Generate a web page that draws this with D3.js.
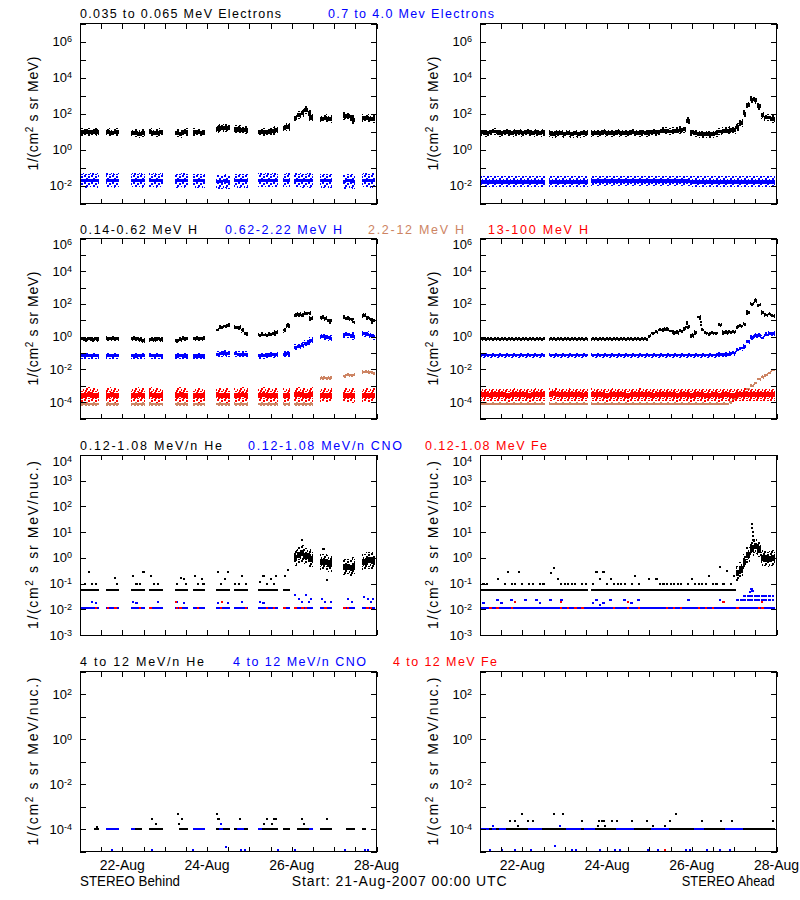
<!DOCTYPE html>
<html><head><meta charset="utf-8">
<script src="https://cdn.jsdelivr.net/npm/d3@7/dist/d3.min.js"></script>
<style>
html,body{margin:0;padding:0;background:#fff;}
svg text{font-family:"Liberation Sans",Arial,Helvetica,sans-serif;}
</style></head><body>
<svg id="chart" width="800" height="900"></svg>
<script>
// ---------------- DATA (hours after 21-Aug-2007 00:00 UTC) ----------------
// STEREO Ahead: 2-hour samples
const hoursA = [0,2,4,6,8,10,12,14,16,18,20,22,24,26,28,30,32,34,36,38,40,42,44,46,48,50,52,54,56,58,60,62,64,66,68,70,72,74,76,78,80,82,84,86,88,90,92,94,96,98,100,102,104,106,108,110,112,114,116,118,120,122,124,126,128,130,132,134,136,138,140,142,144,146,148,150,152,154,156,158,160,162,164,166];
// STEREO Behind: samples inside the data chunks
const hoursB = [1,3,5,7,9,10, 16,18,20,21, 30,32,34,36, 40,42,44,46, 55,57,59,60, 65,67,69,70, 78,80,82,84, 88,90,92,94, 102,104,106,108,110,111, 116,118, 122,124,126,128,130,131, 137,139,141,142, 150,152,154,155, 161,163,165,166];

// Row 1: electrons
const eLoA = [9,9,8,9,10,9,8,9,9,8, 9,9,8,9,9,8,9,8,9,null, 8,7,8,8,7,8,7,8,7,8, 8,null,8,8,8,9,8,8,8,9, 8,8,8,9,8,8,9,8,9,9, 9,10,11,11,10,11,11,12,13,40, 9,8,7,7,7,7,7,8,10,11, 11,12,12,18,30,100,300,600,550,250, 80,60,60,50];
const eHiA = [.016,.016,.016,.016,.016,.016,.016,.016,.016,.016, .016,.016,.016,.016,.016,.016,.016,.016,.016,null, .016,.016,.016,.016,.016,.016,.016,.016,.016,.016, .016,null,.018,.018,.018,.018,.018,.018,.018,.018, .018,.018,.018,.018,.018,.018,.018,.018,.018,.018, .018,.018,.018,.018,.018,.018,.018,.018,.018,.018, .016,.016,.016,.016,.016,.016,.016,.016,.016,.016, .016,.016,.016,.016,.016,.016,.016,.016,.016,.016, .016,.016,.016,.016];
const eLoB = [9,10,9,9,10,9, 9,8,9,9, 8,8,7,8, 9,8,8,9, 8,7,9,9, 9,9,8,9, 14,16,15,15, 13,13,12,12, 9,9,9,10,11,12, 15,18, 55,80,110,150,100,60, 50,55,50,50, 70,70,60,45, 55,55,50,48];
const eHiB = [.02,.018,.02,.02,.02,.018, .02,.02,.018,.02, .02,.02,.02,.018, .02,.02,.018,.02, .018,.02,.02,.018, .018,.018,.018,.018, .016,.016,.018,.016, .018,.018,.018,.018, .02,.02,.02,.02,.02,.02, .02,.02, .02,.02,.018,.02,.018,.02, .018,.018,.018,.018, .016,.018,.018,.016, .02,.02,.018,.02];

// Row 2: protons
const hLoA = [.7,.7,.72,.7,.7,.7,.72,.7,.7,.7, .7,.72,.7,.7,.7,.7,.7,.72,.7,null, .7,.7,.7,.7,.72,.7,.7,.7,.7,.7, .7,null,.7,.7,.7,.72,.7,.7,.7,.7, .7,.7,.7,.7,.72,.7,.7,.75,1.1,1.6, 2.0,2.5,2.7,2.7,2.2,1.8,1.8,2.2,3.2,3.8, 1.2,1.8,16,2.5,1.6,1.4,1.6,1.6,5,1.8, 1.8,2.0,2.0,3.8,4.5,6,30,100,160,90, 30,22,25,18];
const hLoAxHours = [117.5,117.5,124.5,125,125.5];
const hLoAx = [8,6,12,8,5];
const hMidA = [.075,.075,.075,.075,.075,.075,.075,.075,.075,.075, .075,.075,.075,.075,.075,.075,.075,.075,.075,null, .075,.075,.075,.075,.075,.075,.075,.075,.075,.075, .075,null,.075,.075,.075,.075,.075,.075,.075,.075, .075,.075,.075,.075,.075,.075,.075,.075,.075,.075, .075,.075,.075,.075,.075,.075,.075,.075,.075,.075, .075,.075,.075,.075,.075,.075,.075,.075,.085,.085, .085,.09,.1,.15,.2,.25,.5,.9,1.2,1.2, .85,1.3,1.5,1.6];
const hHighA = [8e-5,8e-5,8e-5,8e-5,8e-5,8e-5,8e-5,8e-5,8e-5,8e-5, 8e-5,8e-5,8e-5,8e-5,8e-5,8e-5,8e-5,8e-5,8e-5,null, 8e-5,8e-5,8e-5,8e-5,8e-5,8e-5,8e-5,8e-5,8e-5,8e-5, 8e-5,null,8e-5,8e-5,8e-5,8e-5,8e-5,8e-5,8e-5,8e-5, 8e-5,8e-5,8e-5,8e-5,8e-5,8e-5,8e-5,8e-5,8e-5,8e-5, 8e-5,8e-5,8e-5,8e-5,8e-5,8e-5,8e-5,8e-5,8e-5,8e-5, 8e-5,8e-5,8e-5,8e-5,8e-5,8e-5,8e-5,8e-5,8e-5,8e-5, 8e-5,1e-4,1.5e-4,2e-4,3e-4,4e-4,6e-4,1e-3,1.5e-3,2.5e-3, 3.5e-3,4.5e-3,6e-3,9e-3];
const hTopA = [2.8e-4,3e-4,2.8e-4,2.6e-4,2.8e-4,3e-4,2.8e-4,2.8e-4,2.6e-4,2.8e-4, 3e-4,2.8e-4,2.8e-4,2.8e-4,2.6e-4,2.8e-4,3e-4,2.8e-4,2.8e-4,null, 3e-4,3.2e-4,3e-4,2.8e-4,2.8e-4,3e-4,2.8e-4,2.8e-4,2.8e-4,2.6e-4, 2.8e-4,null,3e-4,2.8e-4,2.8e-4,2.8e-4,2.6e-4,2.8e-4,3e-4,2.8e-4, 2.8e-4,2.8e-4,2.6e-4,2.8e-4,2.8e-4,3e-4,2.8e-4,2.8e-4,2.8e-4,2.6e-4, 2.8e-4,2.8e-4,3e-4,2.8e-4,2.8e-4,2.8e-4,2.6e-4,2.8e-4,2.8e-4,2.8e-4, 2.6e-4,2.8e-4,2.8e-4,2.8e-4,2.6e-4,2.6e-4,2.8e-4,2.8e-4,2.6e-4,2.8e-4, 2.8e-4,2.6e-4,2.6e-4,2.8e-4,2.8e-4,3e-4,3e-4,2.8e-4,2.8e-4,2.8e-4, 2.8e-4,2.8e-4,2.8e-4,2.8e-4];
const hLoB = [.75,.7,.75,.7,.75,.7, .75,.75,.75,.75, .75,.75,.7,.6, .7,.7,.75,.7, .6,.65,.75,.8, .75,.75,.75,.75, 2.5,3.5,4.5,5, 3.5,3.5,2.5,1.5, 1.3,1.3,1.3,1.4,1.6,1.8, 2.5,5, 20,22,20,25,28,13, 15,13,10,9, 14,13,12,8, 20,15,12,9];
const hMidB = [.07,.07,.07,.07,.07,.07, .07,.07,.07,.07, .07,.065,.07,.07, .07,.07,.07,.07, .065,.07,.07,.065, .065,.065,.065,.065, .085,.09,.1,.09, .09,.085,.085,.085, .07,.07,.075,.075,.08,.08, .085,.09, .22,.25,.3,.4,.5,.6, 1.0,.95,.85,.8, 1.3,1.3,1.2,1.0, 1.5,1.4,1.2,1.0];
const hHighB = [8e-5,8e-5,8e-5,8e-5,8e-5,8e-5, 8e-5,8e-5,8e-5,8e-5, 8e-5,8e-5,8e-5,8e-5, 8e-5,8e-5,8e-5,8e-5, 8e-5,8e-5,8e-5,8e-5, 8e-5,8e-5,8e-5,8e-5, 8e-5,8e-5,8e-5,8e-5, 8e-5,8e-5,8e-5,8e-5, 8e-5,8e-5,8e-5,8e-5,8e-5,8e-5, 8e-5,8e-5, 8e-5,8e-5,8e-5,8e-5,8e-5,8e-5, 3e-3,3e-3,3e-3,3e-3, 4e-3,4.5e-3,4.5e-3,4.5e-3, 7e-3,7e-3,6.5e-3,6e-3];
const hTopB = [2.7e-4,2.5e-4,2.9e-4,2.7e-4,2.7e-4,2.5e-4, 2.7e-4,2.9e-4,2.7e-4,2.5e-4, 2.7e-4,2.7e-4,2.9e-4,2.7e-4, 2.9e-4,2.7e-4,2.5e-4,2.7e-4, 2.7e-4,2.9e-4,2.7e-4,2.7e-4, 2.7e-4,2.5e-4,2.7e-4,2.7e-4, 2.9e-4,2.7e-4,2.7e-4,2.5e-4, 2.7e-4,2.7e-4,2.9e-4,2.7e-4, 2.7e-4,2.9e-4,2.7e-4,2.7e-4,2.5e-4,2.7e-4, 2.7e-4,2.7e-4, 2.9e-4,3e-4,2.9e-4,2.7e-4,2.7e-4,2.9e-4, 2.7e-4,2.7e-4,2.5e-4,2.7e-4, 2.7e-4,2.7e-4,2.7e-4,2.5e-4, 2.7e-4,2.7e-4,2.7e-4,2.7e-4];

// Row 3: 0.12-1.08 MeV/n heavy ions
const heAbase = [.054,.054,.054,.054,.054,.054,.054,.054,.054,.054, .054,.054,.054,.054,.054,.054,.054,.054,.054,.054, .054,.054,.054,.054,.054,.054,.054,.054,.054,.054, .054,null,.054,.054,.054,.054,.054,.054,.054,.054, .054,.054,.054,.054,.054,.054,.054,.054,.054,.054, .054,.054,.054,.054,.054,.054,.054,.054,.054,.054, .054,.054,.054,.054,.054,.054,.054,.054,.054,.054, .054,.054,.054,null,null,null,null,null,null,null, null,null,null,null];
const heAevtHours = [146,148,150,152,154,156,158,160,162,164,166];
const heAevt = [.25,.35,.7,1.3,2.3,2.8,2.1,1.0,.95,.9,1.0];
const heA2Hours = [0,2,4,10,14,16,18,20,22,24,28,30,34,36,40,42,44,46,48,50,52,54,58,60,64,66,68,70,72,74,76,78,80,82,86,88,90,96,100,102,104,106,108,110,112,114,118,120,122,124,126,128,130,132,134,136,138,140,142,144,154,154,154.5,154.5,155];
const heA2 = [.1,.1,.1,.15,.1, .27,.1,.1,.27,.1, .1,.1,.1,.1,.25, .4,.15,.1,.1,.1, .1,.1,.1,.1,.1, .27,.15,.27,.1,.15, .1,.1,.1,.1,.1, .2,.1,.15,.15,.1, .1,.1,.1,.1,.1, .1,.1,.15,.1,.1, .1,.1,.2,.1,.1, .45,.1,.3,.1,.2, 20,14,10,7,5];
const cnoAbase = [.011,.011,.011,.011,.011,.011,.011,.011,.011,.011, .011,.011,.011,.011,.011,.011,.011,.011,.011,.011, .011,.011,.011,.011,.011,.011,.011,.011,.011,.011, .011,.011,.011,.011,.011,.011,.011,.011,.011,.011, .011,.011,.011,.011,.011,.011,.011,.011,.011,.011, .011,.011,.011,.011,.011,.011,.011,.011,.011,.011, .011,.011,.011,.011,.011,.011,.011,.011,.011,.011, .011,.011,.011,.011,.011,.011,.011,.011,.011,.011, .011,.011,.011,.011];
const cnoA2Hours = [2,10,12,18,26,32,34,40,46,64,66,68,70,74,82,86,90,118,136,146,148,150,152,154,156,158,160,162,164,166];
const cnoA2 = [.017,.022,.017,.022,.022,.022,.017,.022,.022,.017,.022,.015,.017,.022,.022,.017,.022,.022,.022,.022, .022,.022,.022,.022,.022,.022,.022,.022,.022,.022];
const cnoA3Hours = [150,152,154,156,158,160,162,164,166,153,154,154.5];
const cnoA3 = [.033,.033,.033,.033,.033,.033,.033,.033,.033,.045,.06,.05];
const feAHours = [6,10,18,46,50,54,58,76,84,90,106,110,114,124,128,132,146,158,160];
const feA = [.011,.011,.011,.011,.011,.011,.011,.011,.011,.011,.011,.011,.011,.011,.011,.011,.011,.011,.011];
const feA2Hours = [20,46,84,138,160];
const feA2 = [.02,.02,.02,.02,.02];

const heBbase = [.054,.054,.054,.054,.054,.054, .054,.054,.054,.054, .054,.054,.054,.054, .054,.054,.054,.054, .054,.054,.054,.054, .054,.054,.054,.054, .054,.054,.054,.054, .054,.054,.054,.054, .054,.054,.054,.054,.054,.054, .054,.054, null,null,null,null,null,null, null,null,null,null, null,null,null,null, null,null,null,null];
const heBevtHours = [122,124,126,128,130,131,137,139,141,142,150,152,154,155,161,163,165,166];
const heBevt = [1.0,1.3,1.5,1.2,1.1,.9,.7,.7,.6,.6,.45,.45,.4,.5,.7,.8,.8,.75];
const heB2Hours = [3,5,7,9,20,21,30,32,34,36,40,42,44,55,57,59,60,65,67,69,70,78,80,82,84,88,90,92,94,102,104,106,108,110,111,116,118,125.6,138,140];
const heB2 = [.1,.27,.1,.1, .16,.1, .2,.1,.1,.27, .2,.1,.1, .1,.17,.15,.1, .2,.1,.15,.1, .27,.1,.15,.27, .1,.1,.2,.1, .12,.2,.1,.15,.1,.2, .2,.35, 5,2.3,.14];
const cnoBbase = [.011,.011,.011,.011,.011,.011, .011,.011,.011,.011, .011,.011,.011,.011, .011,.011,.011,.011, .011,.011,.011,.011, .011,.011,.011,.011, .011,.011,.011,.011, .011,.011,.011,.011, .011,.011,.011,.011,.011,.011, .011,.011, .011,.011,.011,.011,.011,.011, .011,.011,.011,.011, .011,.011,.011,.011, .011,.011,.011,.011];
const cnoB2Hours = [7,9,30,32,44,55,59,78,84,92,102,104,122,124,126,128,130,131,137,139,142,152,154,161,163,165,166];
const cnoB2 = [.02,.017,.02,.017,.02,.02,.017,.017,.017,.02,.02,.017,.035,.025,.02,.035,.02,.025,.025,.02,.02,.025,.02,.03,.025,.02,.025];
const feBHours = [9,16,20,34,40,55,57,67,80,94,106,110,116,122,126,128,139,150,152,163,165];
const feB = [.011,.011,.011,.011,.011,.011,.011,.011,.011,.011,.011,.011,.011,.011,.011,.011,.011,.011,.011,.011,.011];
const feB2Hours = [54.5,80.5];
const feB2 = [.02,.02];

// Row 4: 4-12 MeV/n heavy ions
const he4Abase = [1e-4,1e-4,1e-4,1e-4,1e-4,1e-4,1e-4,1e-4,1e-4,1e-4, 1e-4,1e-4,1e-4,1e-4,1e-4,1e-4,1e-4,1e-4,1e-4,1e-4, 1e-4,1e-4,1e-4,1e-4,1e-4,1e-4,1e-4,1e-4,1e-4,1e-4, 1e-4,1e-4,1e-4,1e-4,1e-4,1e-4,1e-4,1e-4,1e-4,1e-4, 1e-4,1e-4,1e-4,1e-4,1e-4,1e-4,1e-4,1e-4,1e-4,1e-4, 1e-4,1e-4,1e-4,1e-4,1e-4,1e-4,1e-4,1e-4,1e-4,1e-4, 1e-4,1e-4,1e-4,1e-4,1e-4,1e-4,1e-4,1e-4,1e-4,1e-4, 1e-4,1e-4,1e-4,1e-4,1e-4,1e-4,1e-4,1e-4,1e-4,1e-4, 1e-4,1e-4,1e-4,1e-4];
const cno4AbaseHours = [0,2,4,8,12,14,28,30,32,34,50,52,54,56,60,62,64,78,80,82,84,86,98,100,102,104,106,122,124,126,140,142,144,146,148];
const cno4Abase = [1e-4,1e-4,1e-4,1e-4,1e-4,1e-4,1e-4,1e-4,1e-4,1e-4,1e-4,1e-4,1e-4,1e-4,1e-4,1e-4,1e-4,1e-4,1e-4,1e-4,1e-4,1e-4,1e-4,1e-4,1e-4,1e-4,1e-4,1e-4,1e-4,1e-4,1e-4,1e-4,1e-4,1e-4,1e-4];
const he4AHours = [23.6,42,47.2,111, 17,20,27.4,30,57.6,67.6,69,70,74.6,77.4,86,94.4,107.7,125.6,136.4,142.6,166.2, 21.7,67,71,98,105];
const he4A = [4.8e-4,4.8e-4,4.8e-4,4.8e-4, 2.2e-4,2.2e-4,2.2e-4,2.2e-4,2.2e-4,2.2e-4,2.2e-4,2.2e-4,2.2e-4,2.2e-4,2.2e-4,2.2e-4,2.2e-4,2.2e-4,2.2e-4,2.2e-4,2.2e-4, 1.4e-4,1.4e-4,1.4e-4,1.4e-4,1.4e-4];
const cno4AHours = [5.7,12.7,19.8,28.7,52,54.4,68,76.5,79.3,95.4,101,117,119,128.4,136,141.7,42.5,7.5,45.3];
const cno4A = [1.2e-5,1.2e-5,1.2e-5,1.2e-5,1.2e-5,1.2e-5,1.2e-5,1.2e-5,1.2e-5,1.2e-5,1.2e-5,1.2e-5,1.2e-5,1.2e-5,1.2e-5,1.2e-5,1.8e-5,1.4e-4,1.4e-4];
const fe4AHours = [104.8];
const fe4A = [1.2e-5];
const he4Bbase = [null,null,null,null,1e-4,1e-4, null,null,null,null, null,1e-4,1e-4,null, 1e-4,1e-4,1e-4,1e-4, null,1e-4,1e-4,1e-4, null,null,null,null, 1e-4,1e-4,1e-4,1e-4, 1e-4,null,null,1e-4, 1e-4,1e-4,1e-4,1e-4,1e-4,1e-4, 1e-4,1e-4, null,1e-4,1e-4,1e-4,1e-4,null, 1e-4,1e-4,1e-4,1e-4, null,1e-4,1e-4,1e-4, 1e-4,null,null,null];
const cno4Bbase = [null,null,null,null,null,null, 1e-4,1e-4,1e-4,1e-4, 1e-4,null,null,null, null,null,null,null, null,null,null,null, 1e-4,1e-4,1e-4,1e-4, null,1e-4,null,null, null,1e-4,1e-4,null, 1e-4,null,null,null,null,null, null,null, null,null,null,null,null,1e-4, null,null,null,null, null,null,null,null, null,null,null,null];
const he4BHours = [9.5,41,43,55.7,56,57.6,77.4,78,79,90.7,104,106,109,110,111,125.6,127,140];
const he4B = [1.2e-4,2.7e-4,1.6e-4,4.8e-4,1.6e-4,2.7e-4,4.8e-4,2.7e-4,2.7e-4,2.7e-4,1.6e-4,2.7e-4,1.6e-4,2.7e-4,2.7e-4,2.7e-4,1.6e-4,2.7e-4];
const cno4BHours = [18,40.6,64.2,80,83,91,93.5,112,122,150,161.5,163.4];
const cno4B = [1.2e-5,1.2e-5,1.2e-5,1.6e-4,1.6e-5,1.2e-5,1.2e-5,1.2e-5,1.2e-5,1.2e-5,1.2e-5,1.2e-5];

// Axis labels
const yLabelExps = [[-2,0,2,4,6],[-4,-2,0,2,4,6],[-3,-2,-1,0,1,2,3,4],[-4,-2,0,2]];
const xTickLabels = ["22-Aug","24-Aug","26-Aug","28-Aug"];
const xTickHours = [24,72,120,168];

// ---------------- DRAWING ----------------
const svg = d3.select('#chart');
svg.append('rect').attr('width',800).attr('height',900).attr('fill','#fff');
const colors = {black:'#000000', blue:'#0000ff', red:'#ff0000', brown:'#cd8463'};
const defs = svg.append('defs');
// speckle texture used for the sparse fringes of the scattered point clouds
const speckle = [[0,0],[4,1],[2,3],[6,4],[1,5],[4,6]];
Object.entries(colors).forEach(([k,c])=>{
  const p = defs.append('pattern').attr('id','sp-'+k).attr('width',7).attr('height',7).attr('patternUnits','userSpaceOnUse');
  speckle.forEach(([a,b])=>p.append('rect').attr('x',a).attr('y',b).attr('width',2).attr('height',2).attr('fill',c));
});

const t0 = Date.UTC(2007,7,21);
const T = h => new Date(t0 + h*36e5);
const PW = 296.5, PH = 180;
const colX = {B:80, A:480};
const rowY = [23.5, 238.5, 455, 671.5];
const rowDomains = [[1e-3,1e7],[1e-5,1e6],[1e-3,1e4],[1e-5,1e3]];

function drawSeries(g, xs, ys, s){
  const pts = s.hours.map((h,i)=>({h, v:s.vals[i]})).filter(d=>d.v!=null);
  const c = colors[s.color];
  const gg = g.append('g').attr('shape-rendering','crispEdges');
  if (s.type==='dot'){
    gg.selectAll('rect').data(pts).join('rect')
      .attr('x',d=>xs(T(d.h))-1).attr('y',d=>ys(d.v)-1).attr('width',2).attr('height',2).attr('fill',c);
    return;
  }
  const hw = s.hw || 1, sd = s.sd || 0;
  const gx = d=>xs(T(d.h-hw)), gw = d=>xs(T(d.h+hw))-xs(T(d.h-hw));
  if (s.halo){
    gg.append('g').selectAll('rect').data(pts).join('rect')
      .attr('x',gx).attr('width',gw)
      .attr('y',d=>ys(d.v*Math.pow(10,s.halo)))
      .attr('height',d=>ys(d.v/Math.pow(10,s.halo))-ys(d.v*Math.pow(10,s.halo)))
      .attr('fill',`url(#sp-${s.color})`);
  }
  gg.append('g').selectAll('rect').data(pts).join('rect')
    .attr('x',gx).attr('width',gw)
    .attr('y',d=>Math.min(ys(d.v*Math.pow(10,sd)), ys(d.v)-1))
    .attr('height',d=>Math.max(2, ys(d.v/Math.pow(10,sd))-ys(d.v*Math.pow(10,sd))))
    .attr('fill',c);
}

function panel(row, side, series){
  const x0 = colX[side], y0 = rowY[row];
  const xs = d3.scaleUtc().domain([T(0),T(168)]).range([x0, x0+PW]);
  const ys = d3.scaleLog().domain(rowDomains[row]).range([y0+PH, y0]);
  const id = `clip-${row}-${side}`;
  defs.append('clipPath').attr('id',id).append('rect').attr('x',x0).attr('y',y0).attr('width',PW).attr('height',PH);
  const g = svg.append('g').attr('clip-path',`url(#${id})`);
  series.forEach(s=>drawSeries(g, xs, ys, s));

  const ag = svg.append('g').attr('shape-rendering','crispEdges');
  const every12 = d3.utcHour.every(12);
  const clean = sel => { sel.select('.domain').remove(); sel.selectAll('line').attr('stroke','#000'); };
  ag.append('g').attr('transform',`translate(0,${y0})`).call(d3.axisBottom(xs).ticks(every12).tickSize(5).tickFormat('')).call(clean);
  ag.append('g').attr('transform',`translate(0,${y0+PH})`).call(d3.axisTop(xs).ticks(every12).tickSize(5).tickFormat('')).call(clean);
  const [lo,hi] = rowDomains[row];
  const topExp = Math.round(Math.log10(hi));
  const decs = d3.range(Math.round(Math.log10(lo)), topExp+1).map(e=>Math.pow(10,e));
  ag.append('g').attr('transform',`translate(${x0},0)`).call(d3.axisRight(ys).tickValues(decs).tickSize(6).tickFormat('')).call(clean);
  ag.append('g').attr('transform',`translate(${x0+PW},0)`).call(d3.axisLeft(ys).tickValues(decs).tickSize(6).tickFormat('')).call(clean);
  ag.append('rect').attr('x',x0).attr('y',y0).attr('width',PW).attr('height',PH).attr('fill','none').attr('stroke','#000');

  yLabelExps[row].forEach(e=>{
    // a label sitting on the top edge of the frame is pushed down inside it
    const shift = e===topExp ? 6 : 0;
    const t = svg.append('text').attr('x',x0-8).attr('y',ys(Math.pow(10,e))+4.5+shift).attr('text-anchor','end').attr('font-size',13);
    t.append('tspan').text('10');
    t.append('tspan').attr('dy',-4).attr('font-size',9).text(e);
  });
  const unit = row<2 ? ' s sr MeV)' : ' s sr MeV/nuc.)';
  const yt = svg.append('text').attr('transform',`translate(${x0-42},${y0+PH/2}) rotate(-90)`)
    .attr('text-anchor','middle').attr('font-size',14)
    .attr('textLength', row<2 ? 114 : 168).attr('lengthAdjust','spacing');
  yt.append('tspan').text('1/(cm');
  yt.append('tspan').attr('dy',-5).attr('font-size',10).text('2');
  yt.append('tspan').attr('dy',5).text(unit);

  if (row===3){
    xTickLabels.forEach((lab,i)=>{
      svg.append('text').attr('x',xs(T(xTickHours[i]))).attr('y',870).attr('text-anchor','middle').attr('font-size',14).text(lab);
    });
  }
}

const S = (hours, vals, color, opt={}) => Object.assign({hours, vals, color}, opt);

panel(0,'B',[ S(hoursB,eLoB,'black',{sd:.12,halo:.22}), S(hoursB,eHiB,'blue',{sd:.08,halo:.4}) ]);
panel(0,'A',[ S(hoursA,eLoA,'black',{sd:.11,halo:.2}), S(hoursA,eHiA,'blue',{sd:.12,halo:.3}) ]);
panel(1,'B',[ S(hoursB,hLoB,'black',{sd:.08,halo:.15}), S(hoursB,hMidB,'blue',{sd:.1,halo:.18}),
              S(hoursB,hHighB,'brown',{sd:.04,halo:.12}), S(hoursB,hTopB,'red',{sd:.15,halo:.45}) ]);
panel(1,'A',[ S(hoursA,hLoA,'black',{sd:.07,halo:.13}), S(hLoAxHours,hLoAx,'black',{type:'dot'}),
              S(hoursA,hMidA,'blue',{sd:.08,halo:.15}), S(hoursA,hHighA,'brown',{sd:.03,halo:.1}),
              S(hoursA,hTopA,'red',{sd:.15,halo:.38}) ]);
panel(2,'B',[ S(hoursB,heBbase,'black',{hw:1}), S(heBevtHours,heBevt,'black',{sd:.12,halo:.32}),
              S(heB2Hours,heB2,'black',{hw:.6}),
              S(hoursB,cnoBbase,'blue',{hw:1}), S(cnoB2Hours,cnoB2,'blue',{hw:.6}),
              S(feBHours,feB,'red',{hw:.7}), S(feB2Hours,feB2,'red',{hw:.6}) ]);
panel(2,'A',[ S(hoursA,heAbase,'black',{hw:1}), S(heAevtHours,heAevt,'black',{sd:.12,halo:.3}),
              S(heA2Hours,heA2,'black',{hw:.6}),
              S(hoursA,cnoAbase,'blue',{hw:1}), S(cnoA2Hours,cnoA2,'blue',{hw:.8}), S(cnoA3Hours,cnoA3,'blue',{hw:.8}),
              S(feAHours,feA,'red',{hw:.7}), S(feA2Hours,feA2,'red',{hw:.6}) ]);
panel(3,'B',[ S(hoursB,he4Bbase,'black',{hw:1}), S(hoursB,cno4Bbase,'blue',{hw:1}),
              S(he4BHours,he4B,'black',{type:'dot'}), S(cno4BHours,cno4B,'blue',{type:'dot'}) ]);
panel(3,'A',[ S(hoursA,he4Abase,'black',{hw:1}), S(cno4AbaseHours,cno4Abase,'blue',{hw:1}),
              S(he4AHours,he4A,'black',{type:'dot'}), S(cno4AHours,cno4A,'blue',{type:'dot'}), S(fe4AHours,fe4A,'red',{type:'dot'}) ]);

// Titles
const titles = [
  {y:17.5, items:[['0.035 to 0.065 MeV Electrons',80,201,'black'],['0.7 to 4.0 Mev Electrons',328,166,'blue']]},
  {y:233.5, items:[['0.14-0.62 MeV H',80,117,'black'],['0.62-2.22 MeV H',225,117,'blue'],['2.2-12 MeV H',368,96,'brown'],['13-100 MeV H',488,100,'red']]},
  {y:449.5, items:[['0.12-1.08 MeV/n He',80,142,'black'],['0.12-1.08 MeV/n CNO',248,154,'blue'],['0.12-1.08 MeV Fe',425,122,'red']]},
  {y:665.5, items:[['4 to 12 MeV/n He',80,124,'black'],['4 to 12 MeV/n CNO',233,133,'blue'],['4 to 12 MeV Fe',393,104,'red']]}
];
titles.forEach(r=>r.items.forEach(([t,x,w,c])=>{
  svg.append('text').attr('x',x).attr('y',r.y).attr('font-size',12.5).attr('fill',colors[c])
    .attr('textLength',w).attr('lengthAdjust','spacing').text(t);
}));
svg.append('text').attr('x',80).attr('y',885.5).attr('font-size',14).attr('textLength',100).attr('lengthAdjust','spacingAndGlyphs').text('STEREO Behind');
svg.append('text').attr('x',291.7).attr('y',885.5).attr('font-size',14).attr('textLength',215).attr('lengthAdjust','spacing').text('Start: 21-Aug-2007 00:00 UTC');
svg.append('text').attr('x',681.7).attr('y',885.5).attr('font-size',14).attr('textLength',93).attr('lengthAdjust','spacingAndGlyphs').text('STEREO Ahead');
</script>
</body></html>
